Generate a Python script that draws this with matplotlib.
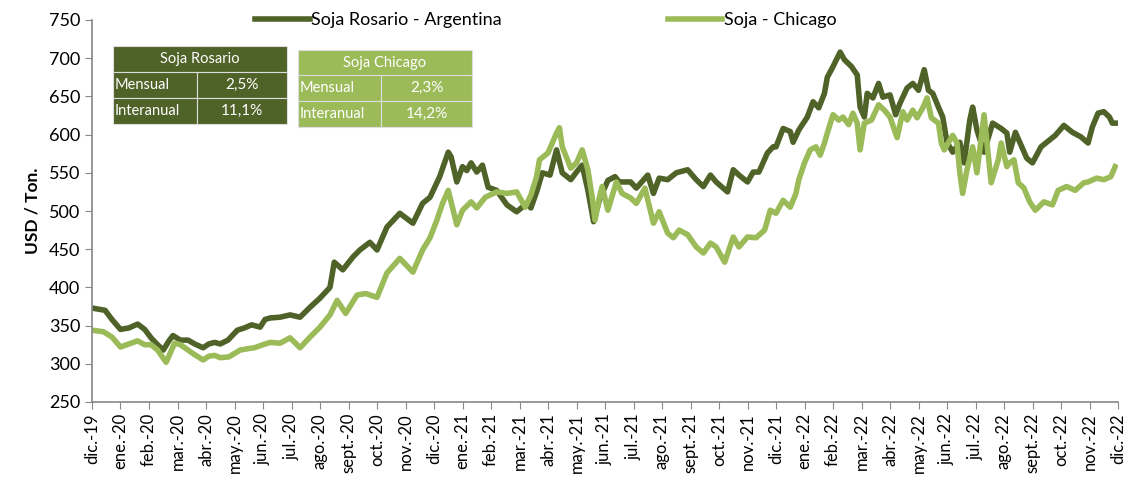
import matplotlib
matplotlib.use("Agg")
import matplotlib.pyplot as plt
from matplotlib.patches import Rectangle

plt.rcParams["font.family"] = ["Lato", "DejaVu Sans"]

DARK = "#4F6228"
LIGHT = "#9BBB59"

# ── Data (x = months since dic.-19) ─────────────────────────────────────────
month_labels = ["dic.-19", "ene.-20", "feb.-20", "mar.-20", "abr.-20", "may.-20",
                "jun.-20", "jul.-20", "ago.-20", "sept.-20", "oct.-20", "nov.-20",
                "dic.-20", "ene.-21", "feb.-21", "mar.-21", "abr.-21", "may.-21",
                "jun.-21", "jul.-21", "ago.-21", "sept.-21", "oct.-21", "nov.-21",
                "dic.-21", "ene.-22", "feb.-22", "mar.-22", "abr.-22", "may.-22",
                "jun.-22", "jul.-22", "ago.-22", "sept.-22", "oct.-22", "nov.-22",
                "dic.-22"]

rosario_m = [0, 0.46, 0.7, 1.0, 1.3, 1.6, 1.85, 2.07, 2.3, 2.5, 2.7, 2.84, 3.1,
             3.37, 3.6, 3.9, 4.1, 4.3, 4.5, 4.77, 5.1, 5.35, 5.6, 5.9, 6.07, 6.25,
             6.6, 6.95, 7.3, 7.65, 8.0, 8.35, 8.5, 8.8, 9.16, 9.4, 9.75, 10.0,
             10.35, 10.8, 11.26, 11.6, 11.86, 12.2, 12.5, 12.6, 12.8, 13.0, 13.15,
             13.3, 13.5, 13.7, 13.9, 14.2, 14.56, 14.9, 15.26, 15.4, 15.6, 15.8,
             16.07, 16.3, 16.5, 16.8, 17.0, 17.2, 17.4, 17.6, 17.8, 18.1, 18.35,
             18.5, 18.9, 19.1, 19.5, 19.7, 19.9, 20.2, 20.5, 20.9, 21.2, 21.45,
             21.7, 21.9, 22.3, 22.5, 22.7, 23.0, 23.2, 23.4, 23.7, 23.9, 24.0,
             24.25, 24.5, 24.6, 24.8, 25.1, 25.3, 25.5, 25.7, 25.8, 26.0, 26.25,
             26.4, 26.65, 26.85, 26.95, 27.1, 27.2, 27.4, 27.6, 27.75, 28.0, 28.2,
             28.35, 28.6, 28.8, 29.0, 29.2, 29.35, 29.5, 29.7, 29.85, 30.0, 30.2,
             30.45, 30.6, 30.8, 30.9, 31.05, 31.3, 31.6, 31.9, 32.1, 32.2, 32.4,
             32.6, 32.8, 33.0, 33.3, 33.5, 33.8, 34.1, 34.4, 34.7, 34.95, 35.1,
             35.3, 35.5, 35.7, 35.8, 36.0]
rosario_v = [373, 370, 358, 345, 347, 352, 345, 334, 325, 318, 330, 337, 331,
             331, 326, 321, 326, 328, 326, 331, 344, 347, 351, 348, 358, 360,
             361, 364, 361, 374, 386, 400, 433, 423, 440, 449, 459, 449,
             479, 497, 484, 510, 518, 545, 577, 571, 538, 558, 553,
             563, 551, 560, 531, 527, 508, 499, 510, 504, 525, 550,
             547, 580, 550, 541, 551, 560, 527, 486, 514, 540, 545,
             538, 538, 530, 547, 523, 543, 541, 550, 554, 541, 532,
             547, 538, 525, 554, 547, 538, 551, 551, 576, 584, 584,
             608, 604, 590, 606, 623, 643, 635, 654, 675, 689, 708,
             698, 689, 678, 636, 623, 654, 648, 667, 649, 652, 626,
             641, 661, 667, 658, 685, 658, 654, 636, 623, 590, 577,
             590, 563, 619, 636, 606, 577, 615, 608, 602, 577, 603,
             586, 569, 563, 584, 590, 599, 612, 603, 597, 589, 610,
             628, 630, 623, 615, 615]

chicago_m = [0, 0.4, 0.7, 1.0, 1.3, 1.6, 1.85, 2.07, 2.3, 2.6, 2.9, 3.1, 3.37,
             3.6, 3.9, 4.1, 4.3, 4.5, 4.8, 5.2, 5.5, 5.7, 6.0, 6.25, 6.6, 6.95,
             7.3, 7.65, 8.0, 8.35, 8.6, 8.9, 9.3, 9.6, 10.0, 10.35, 10.8, 11.26,
             11.6, 11.86, 12.1, 12.3, 12.5, 12.8, 13.0, 13.3, 13.5, 13.8, 14.2,
             14.56, 14.9, 15.2, 15.4, 15.6, 15.7, 16.0, 16.3, 16.4, 16.5, 16.8,
             17.0, 17.2, 17.4, 17.55, 17.65, 17.8, 17.9, 18.1, 18.4, 18.6, 18.9,
             19.1, 19.4, 19.7, 19.9, 20.2, 20.4, 20.6, 20.9, 21.2, 21.45, 21.7,
             21.9, 22.2, 22.5, 22.7, 23.0, 23.3, 23.6, 23.8, 24.0, 24.25, 24.5,
             24.7, 24.8, 25.0, 25.2, 25.4, 25.55, 25.7, 25.8, 26.0, 26.2, 26.35,
             26.55, 26.7, 26.85, 26.95, 27.1, 27.35, 27.6, 27.8, 28.0, 28.25,
             28.45, 28.6, 28.8, 28.95, 29.15, 29.3, 29.45, 29.7, 29.8, 29.9, 30.2,
             30.35, 30.45, 30.55, 30.7, 30.9, 31.05, 31.3, 31.55, 31.8, 31.9,
             32.1, 32.2, 32.35, 32.5, 32.7, 32.9, 33.1, 33.4, 33.7, 33.9, 34.2,
             34.5, 34.8, 34.95, 35.25, 35.5, 35.75, 35.9]
chicago_v = [344, 342, 335, 322, 326, 330, 325, 325, 318, 302, 327, 325, 318,
             312, 305, 310, 311, 308, 309, 318, 320, 321, 325, 328, 327, 334,
             321, 335, 348, 364, 383, 366, 390, 392, 387, 419, 438, 420,
             449, 465, 488, 510, 527, 482, 501, 512, 504, 518, 525,
             523, 525, 505, 521, 545, 567, 576, 602, 609, 584, 556,
             563, 580, 554, 518, 488, 517, 532, 501, 538, 523, 517,
             510, 530, 484, 499, 471, 465, 475, 469, 453, 445, 458,
             453, 433, 466, 453, 466, 465, 475, 501, 497, 514, 505,
             523, 541, 563, 580, 584, 573, 589, 602, 626, 619, 623,
             613, 628, 615, 580, 615, 619, 639, 632, 623, 596,
             630, 619, 632, 622, 635, 648, 622, 615, 589, 580, 599,
             589, 550, 523, 554, 584, 550, 626, 537, 567, 589,
             558, 563, 567, 537, 530, 512, 501, 512, 508, 527, 532,
             527, 537, 538, 543, 541, 545, 558]

# summary boxes
rosario_box = [("Mensual", "2,5%"), ("Interanual", "11,1%")]
chicago_box = [("Mensual", "2,3%"), ("Interanual", "14,2%")]

W, H = 1127, 483
fig = plt.figure(figsize=(W / 100, H / 100), dpi=100)
ax = fig.add_axes([92 / W, 1 - 402 / H, (1118 - 92) / W, (402 - 20) / H])

ax.plot(rosario_m, rosario_v, color=DARK, lw=4, label="Soja Rosario - Argentina",
        solid_joinstyle="round")
ax.plot(chicago_m, chicago_v, color=LIGHT, lw=4, label="Soja - Chicago",
        solid_joinstyle="round")

ax.set_xlim(0, 36)
ax.set_ylim(250, 750)
ax.set_yticks(range(250, 751, 50))
ax.set_xticks(range(len(month_labels)))
ax.set_xticklabels(month_labels, rotation=90, fontsize=12)
ax.tick_params(axis="y", labelsize=13, color="#888888", length=5)
ax.tick_params(axis="x", color="#888888", length=5, pad=3)
for side in ["top", "right"]:
    ax.spines[side].set_visible(False)
for side in ["left", "bottom"]:
    ax.spines[side].set_color("#888888")
    ax.spines[side].set_linewidth(1.2)
ax.set_ylabel("USD / Ton.", fontsize=12.5, fontweight="bold", labelpad=6)

fig.legend(loc="center", bbox_to_anchor=(546 / W, 1 - 20 / H), ncol=2,
           frameon=False, fontsize=13, handlelength=3.0, columnspacing=9.2,
           handletextpad=0.1)


# ── Summary boxes ───────────────────────────────────────────────────────────
def px_rect(x0, y0, x1, y1, color):
    fig.patches.append(Rectangle((x0 / W, 1 - y1 / H), (x1 - x0) / W, (y1 - y0) / H,
                                 transform=fig.transFigure, facecolor=color,
                                 edgecolor="#DDDDDD", lw=0.8))


def draw_box(x0, y0, x1, split, row_h, title, rows, color):
    px_rect(x0, y0, x1, y0 + row_h, color)
    fig.text((x0 + x1) / 2 / W, 1 - (y0 + row_h / 2) / H, title, color="white",
             ha="center", va="center", fontsize=10.5)
    for i, (name, val) in enumerate(rows):
        ya = y0 + row_h * (i + 1)
        px_rect(x0, ya, split, ya + row_h, color)
        px_rect(split, ya, x1, ya + row_h, color)
        fig.text((x0 + 2) / W, 1 - (ya + row_h / 2) / H, name, color="white",
                 ha="left", va="center", fontsize=10.5)
        fig.text((split + x1) / 2 / W, 1 - (ya + row_h / 2) / H, val,
                 color="white", ha="center", va="center", fontsize=11)


draw_box(113, 46, 287, 197, 26, "Soja Rosario", rosario_box, DARK)
draw_box(298, 50, 472, 381, 25.5, "Soja Chicago", chicago_box, LIGHT)

fig.savefig("out.png", dpi=100)
